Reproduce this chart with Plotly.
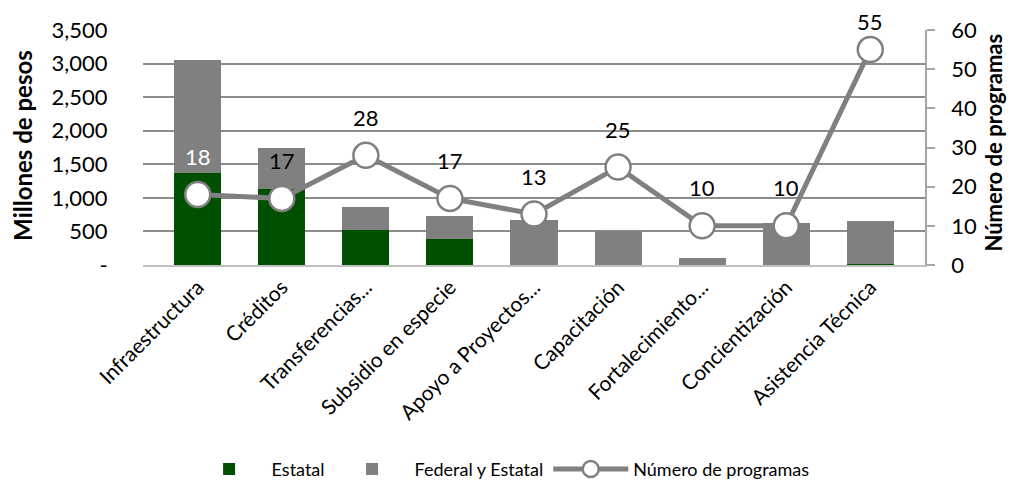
import plotly.graph_objects as go

categories = ["Infraestructura", "Créditos", "Transferencias...", "Subsidio en especie",
              "Apoyo a Proyectos...", "Capacitación", "Fortalecimiento...",
              "Concientización", "Asistencia Técnica"]
estatal = [1375, 1130, 520, 380, 0, 0, 0, 0, 15]
federal_estatal = [1675, 617, 340, 355, 670, 506, 109, 621, 640]
num_programas = [18, 17, 28, 17, 13, 25, 10, 10, 55]

left_tickvals = [0, 500, 1000, 1500, 2000, 2500, 3000, 3500]
left_ticktext = ["-", "500", "1,000", "1,500", "2,000", "2,500", "3,000", "3,500"]
right_tickvals = [0, 10, 20, 30, 40, 50, 60]
left_title = "Millones de pesos"
right_title = "Número de programas"

GREEN = "#005000"
GRAY = "#808080"
FONT = "Lato"

fig = go.Figure()
fig.add_trace(go.Bar(x=categories, y=estatal, name="Estatal",
                     marker=dict(color=GREEN, line=dict(width=0))))
fig.add_trace(go.Bar(x=categories, y=federal_estatal, name="Federal y Estatal",
                     marker=dict(color=GRAY, line=dict(width=0))))
fig.add_trace(go.Scatter(x=categories, y=num_programas, name="Número de programas",
                         yaxis="y2", mode="lines+markers",
                         line=dict(color=GRAY, width=5),
                         marker=dict(size=25, color="white",
                                     line=dict(color=GRAY, width=2.5))))

for i, (c, v) in enumerate(zip(categories, num_programas)):
    shift = 28 if v == max(num_programas) else 38
    fig.add_annotation(x=c, y=v, xref="x", yref="y2", text=str(v),
                       showarrow=False, yshift=shift,
                       font=dict(family=FONT, size=22,
                                 color="white" if i == 0 else "black"))

# axis titles as rotated annotations for precise placement
fig.add_annotation(x=-0.1535, y=0.511, xref="paper", yref="paper",
                   text="<b>" + left_title + "</b>", textangle=-90,
                   showarrow=False, xanchor="center", yanchor="middle",
                   font=dict(family=FONT, size=24, color="black"))
fig.add_annotation(x=1.088, y=0.52, xref="paper", yref="paper",
                   text="<b>" + right_title + "</b>", textangle=-90,
                   showarrow=False, xanchor="center", yanchor="middle",
                   font=dict(family=FONT, size=22, color="black"))

W, H = 1009, 482
fig.update_layout(
    width=W, height=H,
    barmode="stack", bargap=0.44,
    plot_bgcolor="white", paper_bgcolor="white",
    margin=dict(l=135, r=92, t=22, b=225),
    font=dict(family=FONT, size=20, color="black"),
    showlegend=True,
    legend=dict(orientation="h", xref="container", yref="container",
                x=0.177, xanchor="left", y=0.043, yanchor="middle",
                font=dict(family=FONT, size=18), traceorder="normal",
                itemwidth=75),
    xaxis=dict(tickangle=-45, tickfont=dict(family=FONT, size=21),
               showline=True, linecolor="#bfbfbf", linewidth=1.5,
               showgrid=False, ticks=""),
    yaxis=dict(range=[0, 3500], tickvals=left_tickvals, ticktext=left_ticktext,
               showgrid=True, gridcolor="#8c8c8c", gridwidth=1.5,
               zeroline=False, showline=False, automargin=False,
               ticks="outside", ticklen=30, tickcolor="rgba(0,0,0,0)",
               tickfont=dict(family=FONT, size=22)),
    yaxis2=dict(range=[0, 60], tickvals=right_tickvals, overlaying="y", side="right",
                showgrid=False, zeroline=False, automargin=False,
                showline=True, linecolor="#a6a6a6", linewidth=1.5,
                ticks="outside", ticklen=8, tickcolor="#a6a6a6", tickwidth=1.5,
                ticklabelstandoff=12,
                tickfont=dict(family=FONT, size=22)),
)

fig.write_html("out.html")
